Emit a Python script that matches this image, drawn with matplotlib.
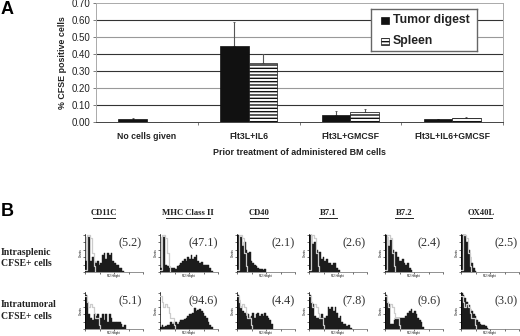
"""Two-part figure: CFSE bar chart (A) and flow histogram grid (B)."""
import numpy as np
import matplotlib
matplotlib.use("Agg")
import matplotlib.pyplot as plt
from matplotlib.patches import Rectangle

W, H = 520, 336

groups = ["No cells given", "Flt3L+IL6", "Flt3L+GMCSF", "Flt3L+IL6+GMCSF"]
tumor = [0.015, 0.45, 0.037, 0.014]
tumor_err = [0.006, 0.14, 0.025, 0.004]
spleen = [0.0, 0.345, 0.055, 0.021]
spleen_err = [0.0, 0.055, 0.02, 0.004]
yticks = [0.0, 0.1, 0.2, 0.3, 0.4, 0.5, 0.6, 0.7]

markers = ["CD11C", "MHC Class II", "CD40", "B7.1", "B7.2", "OX40L"]
rows = ["Intrasplenic\nCFSE+ cells", "Intratumoral\nCFSE+ cells"]
pct_spleen = ["(5.2)", "(47.1)", "(2.1)", "(2.6)", "(2.4)", "(2.5)"]
pct_tumor = ["(5.1)", "(94.6)", "(4.4)", "(7.8)", "(9.6)", "(3.0)"]

# filled histograms, one list per panel, height as fraction of the y axis
fill_spleen = [
    [.30, .95, .95, .30, .40, .30, .25, .30, .20, .25, .45, .50, .35, .50, .45, .50, .30, .25, .20, .20, .10, .10, .03],
    [.10, .95, .95, .20, .15, .10, .10, .12, .10, .08, .15, .20, .25, .30, .35, .30, .40, .35, .45, .35, .40, .45, .30, .25, .28, .20, .20, .18, .18, .10, .03],
    [1.0, .85, .95, .70, .80, .60, .50, .55, .30, .25, .20, .15, .10, .08, .08, .05, .08],
    [1.0, 1.0, .75, .80, .60, .50, .55, .35, .40, .30, .35, .25, .25, .20, .25, .25, .12, .05],
    [1.0, .95, .70, .85, .60, .45, .55, .40, .30, .30, .35, .25, .20, .25, .12, .05],
    [1.0, 1.0, 1.0, .80, .60, .40, .25, .12, .03],
]
fill_tumor = [
    [.95, .75, .40, .30, .25, .40, .35, .40, .25, .30, .40, .25, .40, .20, .40, .30, .20, .20, .20, .20, .20, .15, .05, .10],
    [.05, .10, .05, .08, .10, .12, .20, .15, .20, .18, .15, .20, .25, .25, .28, .30, .35, .40, .42, .45, .58, .50, .52, .56, .50, .45, .35, .30, .20, .10, .05],
    [.95, .80, .60, .50, .45, .35, .40, .30, .35, .45, .30, .40, .45, .35, .40, .35, .45, .35, .30, .25, .15],
    [.95, .75, .70, .35, .30, .30, .30, .40, .30, .30, .35, .60, .55, .60, .50, .60, .45, .30, .35, .20, .15, .15, .08, .10, .02],
    [.95, .75, .70, .15, .15, .25, .30, .30, .30, .30, .30, .30, .35, .45, .50, .55, .45, .50, .40, .30, .25, .20, .05],
    [1.0, .95, .85, .75, .65, .55, .50, .40, .35, .25, .20, .15, .12, .10, .08, .03],
]
# isotype control outline
line_spleen = [.05, 1.0, 1.0, .90, .50, .15, .03]
line_tumor = [.90, .75, .60, .70, .60, .45, .30, .30, .10, .02]


def px_axes(fig, x0, y0, x1, y1):
    # pixel box measured from the top left of the picture
    return fig.add_axes([x0 / W, 1 - y1 / H, (x1 - x0) / W, (y1 - y0) / H])


plt.rcParams["font.family"] = ["Liberation Sans", "DejaVu Sans"]
plt.rcParams["hatch.linewidth"] = 1.0
fig = plt.figure(figsize=(W / 100, H / 100), dpi=100)

# ----------------------------------------------------------------------
# Panel A: bars
# ----------------------------------------------------------------------
ax = px_axes(fig, 96, 3.5, 503, 121.7)
x = np.arange(len(groups))
ax.set_axisbelow(True)
for y in yticks[1:-1]:
    dark = y in (0.1, 0.3, 0.4, 0.6)
    ax.axhline(y, color="#333333" if dark else "#999999", lw=0.8, zorder=1)
ax.bar(x - 0.14, tumor, 0.28, color="#111111", edgecolor="#111111", lw=0.5, zorder=3)
ax.bar(x + 0.14, spleen, 0.28, color="white", edgecolor="#111111", lw=0.5,
       hatch="-----", zorder=3)
ax.errorbar(x - 0.14, tumor, yerr=[[0] * 4, tumor_err], fmt="none", ecolor="#555555",
            elinewidth=0.8, capsize=1, capthick=0.6, zorder=2)
ax.errorbar(x + 0.14, spleen, yerr=[[0] * 4, spleen_err], fmt="none", ecolor="#555555",
            elinewidth=0.8, capsize=1, capthick=0.6, zorder=2)
ax.set_xlim(-0.5, 3.5)
ax.set_ylim(0, 0.7)
ax.set_yticks(yticks)
ax.set_yticklabels([f"{v:.2f}" for v in yticks], fontsize=7, color="#222222")
ax.set_xticks([0.5, 1.5, 2.5, 3.5])
ax.set_xticklabels([])
ax.tick_params(axis="both", length=2, width=0.6, color="#666666", pad=2)
for i, g in enumerate(groups):
    ax.text(i, -0.085, g, ha="center", va="center", fontsize=6.3, fontweight="bold",
            color="#222222")
ax.set_xlabel("Prior treatment of administered BM cells", fontsize=6.4,
              fontweight="bold", color="#222222")
ax.xaxis.set_label_coords(0.5, -0.222)
ax.set_ylabel("% CFSE positive cells", fontsize=6.4, fontweight="bold",
              color="#222222", labelpad=3)
for s in ax.spines.values():
    s.set_color("#aaaaaa")
    s.set_linewidth(0.7)
ax.spines["bottom"].set_color("#444444")

# legend box drawn by hand so it can sit exactly on the grid
lg = px_axes(fig, 371, 9, 477, 51)
lg.set_xlim(0, 106)
lg.set_ylim(42, 0)
lg.set_xticks([])
lg.set_yticks([])
for s in lg.spines.values():
    s.set_color("#666666")
    s.set_linewidth(1.0)
lg.add_patch(Rectangle((10, 8), 8, 7, fc="#111111", ec="#111111", lw=0.5))
lg.add_patch(Rectangle((10, 29), 8, 7, fc="white", ec="#111111", lw=0.5, hatch="-----"))
lg.text(22, 11.5, "Tumor digest", fontsize=8.8, fontweight="bold", va="center", color="#222222")
lg.text(22, 32, "Spleen", fontsize=8.8, fontweight="bold", va="center", color="#222222")

fig.text(1 / W, 1 - 10 / H, "A", fontsize=13, fontweight="bold", va="center")
fig.text(1 / W, 1 - 212 / H, "B", fontsize=13, fontweight="bold", va="center")

# ----------------------------------------------------------------------
# Panel B: histograms
# ----------------------------------------------------------------------
serif = ["Liberation Serif", "DejaVu Serif"]
lefts = [85, 160, 237, 309, 385, 461]
tops = [234, 292]
heights = [38, 37]
row_y = [258, 310.5]
header_x = [104, 188, 259, 328, 404, 481]
label_x = [130, 203, 283, 354, 429, 506]
bin_px = 1.7

for i, name in enumerate(markers):
    fig.text(header_x[i] / W, 1 - 213 / H, name, fontsize=6.2, family=serif,
             fontweight="bold", ha="center", va="center", color="#222222")
    w = len(name) * 3.3 + 5
    fig.add_artist(plt.Line2D([(header_x[i] - w / 2) / W, (header_x[i] + w / 2) / W],
                              [1 - 217.5 / H] * 2, color="#222222", lw=0.7))

for r, (fills, line, pcts) in enumerate([(fill_spleen, line_spleen, pct_spleen),
                                         (fill_tumor, line_tumor, pct_tumor)]):
    fig.text(1 / W, 1 - row_y[r] / H, rows[r], fontsize=7, family=serif,
             fontweight="bold", va="center", linespacing=1.35, color="#222222")
    for i in range(6):
        a = px_axes(fig, lefts[i], tops[r], lefts[i] + 58, tops[r] + heights[r])
        vals = fills[i]
        a.bar(np.arange(len(vals)), vals, 1.0, align="edge", color="#1c1c1c",
              edgecolor="#1c1c1c", lw=0.3, zorder=2)
        a.step(np.arange(len(line)), line, where="post", color="#cccccc", lw=0.9, zorder=3)
        a.set_xlim(0, 58 / bin_px)
        a.set_ylim(0, 1.02)
        a.set_xticks(np.linspace(0, 58 / bin_px, 5))
        a.set_yticks([0, 0.2, 0.4, 0.6, 0.8, 1.0])
        a.set_xticklabels([])
        a.set_yticklabels([])
        a.tick_params(length=1.2, width=0.5, color="#333333", pad=0)
        a.spines["top"].set_visible(False)
        a.spines["right"].set_visible(False)
        a.spines["left"].set_linewidth(0.5)
        a.spines["bottom"].set_linewidth(0.5)
        a.spines["bottom"].set_color("#666666")
        a.set_xlabel("FL2-Height", fontsize=2, labelpad=0.5)
        a.set_ylabel("Counts", fontsize=2, labelpad=0.5)
        fig.text(label_x[i] / W, 1 - (tops[r] + 9) / H, pcts[i], fontsize=8.8,
                 family=serif, ha="center", va="center", color="#333333")

fig.savefig("out.png", dpi=100)
print("wrote out.png")
